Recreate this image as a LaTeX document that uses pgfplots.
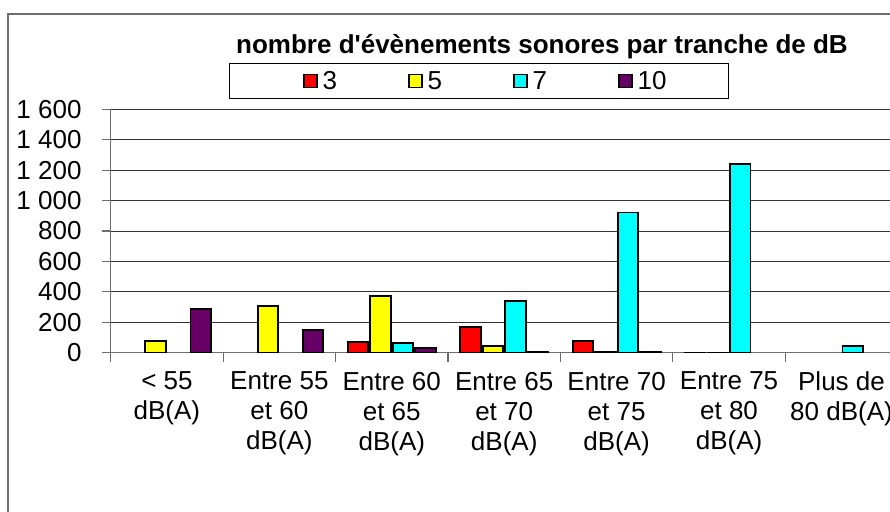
\documentclass[border=0pt]{standalone}
\usepackage{pgfplots}
\pgfplotsset{compat=1.18}
\usepackage{fontspec}
\setmainfont{Liberation Sans}
\definecolor{cred}{RGB}{255,0,0}
\definecolor{cyel}{RGB}{255,255,0}
\definecolor{ccya}{RGB}{0,255,255}
\definecolor{cpur}{RGB}{102,0,102}
\definecolor{axgray}{RGB}{110,110,110}
\pgfplotstableread{
x y
2 70
3 170
4 75
5 2
}\tred
\pgfplotstableread{
x y
0 75
1 305
2 375
3 44
4 4
5 2
}\tyel
\pgfplotstableread{
x y
2 65
3 342
4 922
5 1240
6 45
}\tcya
\pgfplotstableread{
x y
0 285
1 150
2 32
3 4
4 3
}\tpur
\begin{document}
\begin{tikzpicture}
\path[use as bounding box] (0pt,0pt) rectangle (890pt,-511pt);
\clip (0pt,0pt) rectangle (890pt,-511pt);
\draw[axgray, line width=1.3pt] (8pt,-14pt) rectangle (900pt,-530pt);
\draw[black, line width=1pt] (229.7pt,-63.3pt) rectangle (728pt,-98.3pt);
\node[font=\fontsize{26}{30}\selectfont\bfseries, anchor=base, inner sep=0pt] at (542pt,-53pt) {nombre d\textquotesingle évènements sonores par tranche de dB};
\begin{axis}[
  at={(110.7pt,-352.7pt)}, anchor=south west,
  scale only axis, width=787pt, height=243.4pt,
  xmin=-0.5, xmax=6.5, ymin=0, ymax=1600,
  axis lines*=left,
  axis line style={axgray, line width=1.5pt},
  ybar, bar width=0.1825,
  ytick={0,200,...,1600},
  yticklabels={0,200,400,600,800,1 000,1 200,1 400,1 600},
  ymajorgrids,
  grid style={black!80, line width=1pt},
  xtick={-0.5,0.5,...,6.5}, xticklabels={},
  extra x ticks={0,1,...,6},
  extra x tick labels={{< 55\\dB(A)},{Entre 55\\et 60\\dB(A)},{Entre 60\\et 65\\dB(A)},{Entre 65\\et 70\\dB(A)},{Entre 70\\et 75\\dB(A)},{Entre 75\\et 80\\dB(A)},{Plus de\\80 dB(A)}},
  extra x tick style={major tick length=0pt, grid=none},
  tick align=outside,
  major tick length=9pt,
  tick style={axgray, line width=1.2pt},
  /pgf/number format/assume math mode=true,
  every tick label/.append style={font=\fontsize{26}{30}\selectfont},
  xticklabel style={align=center, inner sep=0pt, anchor=north, yshift=-19pt},
  yticklabel style={inner sep=0pt, anchor=east, xshift=-20pt},
  legend style={draw=none, fill=none, at={(axis description cs:0.2443,1.1163)}, anchor=west,
    inner xsep=0pt, inner ysep=0pt, legend columns=4,
    font=\fontsize{26}{30}\selectfont, nodes={inner sep=0pt}, column sep=0pt},
  legend cell align=left,
  legend image code/.code={\draw[#1, draw=black, line width=1.5pt] (0.75pt,-6.5pt) rectangle (13.75pt,6.5pt);},
  every axis plot/.append style={draw=black, line width=1.8pt},
]
\addplot[fill=cred] table[x=x,y=y] {\tred};
\addlegendentry{\makebox[90.5pt][l]{\hspace{5pt}3}}
\addplot[fill=cyel] table[x=x,y=y] {\tyel};
\addlegendentry{\makebox[90.5pt][l]{\hspace{5pt}5}}
\addplot[fill=ccya] table[x=x,y=y] {\tcya};
\addlegendentry{\makebox[90.5pt][l]{\hspace{5pt}7}}
\addplot[fill=cpur] table[x=x,y=y] {\tpur};
\addlegendentry{\makebox[90.5pt][l]{\hspace{5pt}10}}
\end{axis}
\end{tikzpicture}
\end{document}
